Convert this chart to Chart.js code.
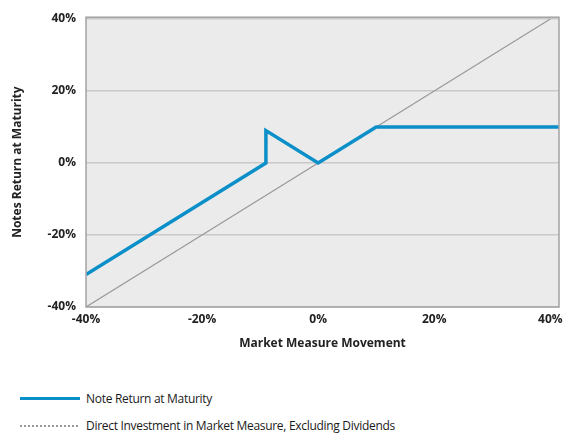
<!DOCTYPE html>
<html>
<head>
<meta charset="utf-8">
<script src="https://cdn.jsdelivr.net/npm/chart.js@4.4.1/dist/chart.umd.min.js"></script>
<style>
  body { margin: 0; background: #fff; font-family: "Open Sans", sans-serif; }
  #wrap { position: relative; width: 574px; height: 360px; }
  .legend { position: absolute; left: 20px; font-size: 12px; color: #1a1a1a; letter-spacing: -0.3px; }
  .legend .row { position: absolute; white-space: nowrap; display: flex; align-items: center; }
  .sw { display: inline-block; width: 60px; margin-right: 6px; }
</style>
</head>
<body>
<div id="wrap"><canvas id="c" width="574" height="360"></canvas></div>
<div class="legend">
  <div class="row" style="top:30px"><span class="sw" style="border-top:3px solid #0a8fc8"></span>Note Return at Maturity</div>
  <div class="row" style="top:57px"><span class="sw" style="border-top:2px dotted #999; width:58px; margin-right:8px"></span>Direct Investment in Market Measure, Excluding Dividends</div>
</div>
<script>
// market measure movement (%) -> note return (%)
const noteX = [-40, -9, -9, 0, 10, 41.5];
const noteY = [-31, 0, 9, 0, 10, 10];
const directX = [-40, 40];
const directY = [-40, 40];
const xTicks = [-40, -20, 0, 20, 40];
const yTicks = [-40, -20, 0, 20, 40];

const toPts = (xs, ys) => xs.map((x, i) => ({ x: x, y: ys[i] }));

const plotBg = {
  id: "plotBg",
  beforeDraw(chart) {
    const a = chart.chartArea, ctx = chart.ctx;
    ctx.save();
    ctx.fillStyle = "#ebebeb";
    ctx.fillRect(a.left, a.top, a.right - a.left, a.bottom - a.top);
    ctx.restore();
  },
  afterDraw(chart) {
    const a = chart.chartArea, ctx = chart.ctx;
    ctx.save();
    ctx.strokeStyle = "#a3a3a3";
    ctx.lineWidth = 1.5;
    ctx.strokeRect(a.left, a.top, a.right - a.left, a.bottom - a.top);
    ctx.restore();
  }
};

const tickFont = { family: "Open Sans", size: 12, weight: "bold" };

new Chart(document.getElementById("c"), {
  type: "scatter",
  data: {
    datasets: [
      {
        label: "Note Return at Maturity",
        data: toPts(noteX, noteY),
        showLine: true,
        borderColor: "#0a8fc8",
        borderWidth: 3.5,
        pointRadius: 0,
        tension: 0,
        order: 0
      },
      {
        label: "Direct Investment in Market Measure, Excluding Dividends",
        data: toPts(directX, directY),
        showLine: true,
        borderColor: "#9a9a9a",
        borderWidth: 1.2,
        pointRadius: 0,
        order: 1
      }
    ]
  },
  options: {
    responsive: false,
    animation: false,
    devicePixelRatio: 1,
    layout: { padding: { left: 0, top: 14, right: 15, bottom: 0 } },
    plugins: { legend: { display: false }, tooltip: { enabled: false } },
    scales: {
      x: {
        type: "linear",
        min: -40,
        max: 41.5,
        afterBuildTicks: s => { s.ticks = xTicks.map(v => ({ value: v })); },
        afterFit: s => { s.height = 53; },
        grid: { display: false, drawTicks: false },
        border: { display: false },
        ticks: { font: tickFont, color: "#222", padding: 5, maxRotation: 0, callback: v => v + "%" },
        title: { display: true, text: "Market Measure Movement", font: { family: "Open Sans", size: 12, weight: "bold" }, color: "#222", padding: { top: 0, bottom: 9 } }
      },
      y: {
        min: -40,
        max: 40.5,
        afterBuildTicks: s => { s.ticks = yTicks.map(v => ({ value: v })); },
        afterFit: s => { s.width = 86; },
        grid: { color: "#c9c9c9", lineWidth: 1.5, drawTicks: false },
        border: { display: false },
        ticks: { font: tickFont, color: "#222", padding: 10, callback: v => v + "%" },
        title: { display: true, text: "Notes Return at Maturity", font: { family: "Open Sans", size: 12, weight: "bold" }, color: "#222", padding: { top: 10, bottom: 4 } }
      }
    }
  },
  plugins: [plotBg]
});
</script>
</body>
</html>
